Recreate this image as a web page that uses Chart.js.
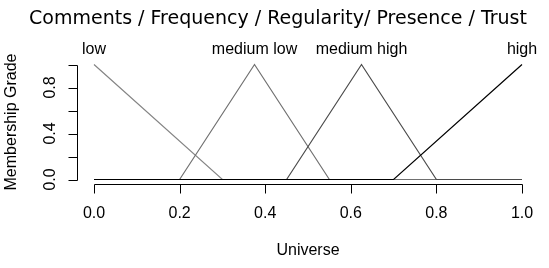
<!DOCTYPE html>
<html>
<head>
<meta charset="utf-8">
<script src="https://cdn.jsdelivr.net/npm/chart.js@4"></script>
<style>
  html, body { margin: 0; padding: 0; background: #fff; }
  #wrap { width: 549px; height: 268px; }
</style>
</head>
<body>
<div id="wrap"><canvas id="mf-chart" width="549" height="268"></canvas></div>
<script>
// membership functions
const lowX = [0, 0.3, 1];
const lowY = [1, 0, 0];
const medLowX = [0, 0.2, 0.375, 0.55, 1];
const medLowY = [0, 0, 1, 0, 0];
const medHighX = [0, 0.45, 0.625, 0.8, 1];
const medHighY = [0, 0, 1, 0, 0];
const highX = [0, 0.7, 1];
const highY = [0, 0, 1];

const setNames = ['low', 'medium low', 'medium high', 'high'];
const setPeaks = [0, 0.375, 0.625, 1];

const xTicks = [0, 0.2, 0.4, 0.6, 0.8, 1];
const xTickLabels = ['0.0', '0.2', '0.4', '0.6', '0.8', '1.0'];
const yTicks = [0, 0.2, 0.4, 0.6, 0.8, 1];
const yTickLabels = ['0.0', '', '0.4', '', '0.8', ''];

const titleText = 'Comments / Frequency / Regularity/ Presence / Trust';
const FONT = '16px "Liberation Sans", Arial, sans-serif';

function _pts(xs, ys) {
    return xs.map((x, i) => ({x: x, y: ys[i]}));
}

// R style axes drawn off the plot region, from the chart's own scales
const rAxes = {
    id: 'rAxes',
    afterDraw(chart) {
        const ctx = chart.ctx;
        const xs = chart.scales.x, ys = chart.scales.y;
        const axisY = Math.round(ys.getPixelForValue(-0.04)) + 0.5;
        const axisX = Math.round(xs.getPixelForValue(-0.04)) + 0.5;
        ctx.save();
        ctx.strokeStyle = '#000';
        ctx.fillStyle = '#000';
        ctx.lineWidth = 1;
        ctx.font = FONT;

        // x axis
        ctx.beginPath();
        ctx.moveTo(Math.round(xs.getPixelForValue(xTicks[0])) + 0.5, axisY);
        ctx.lineTo(Math.round(xs.getPixelForValue(xTicks[xTicks.length-1])) + 0.5, axisY);
        xTicks.forEach(v => {
            const px = Math.round(xs.getPixelForValue(v)) + 0.5;
            ctx.moveTo(px, axisY);
            ctx.lineTo(px, axisY + 9);
        });
        ctx.stroke();
        ctx.textAlign = 'center';
        ctx.textBaseline = 'middle';
        xTicks.forEach((v, i) => {
            ctx.fillText(xTickLabels[i], xs.getPixelForValue(v), 214);
        });
        ctx.fillText('Universe', xs.getPixelForValue(0.5), 251);

        // y axis
        ctx.beginPath();
        ctx.moveTo(axisX, Math.round(ys.getPixelForValue(yTicks[0])) + 0.5);
        ctx.lineTo(axisX, Math.round(ys.getPixelForValue(yTicks[yTicks.length-1])) + 0.5);
        yTicks.forEach(v => {
            const py = Math.round(ys.getPixelForValue(v)) + 0.5;
            ctx.moveTo(axisX, py);
            ctx.lineTo(axisX - 9, py);
        });
        ctx.stroke();
        yTicks.forEach((v, i) => {
            if (!yTickLabels[i]) return;
            ctx.save();
            ctx.translate(51, ys.getPixelForValue(v));
            ctx.rotate(-Math.PI / 2);
            ctx.fillText(yTickLabels[i], 0, 0);
            ctx.restore();
        });
        ctx.save();
        ctx.translate(12, ys.getPixelForValue(0.5));
        ctx.rotate(-Math.PI / 2);
        ctx.fillText('Membership Grade', 0, 0);
        ctx.restore();

        // set names above the peaks
        setNames.forEach((name, i) => {
            ctx.fillText(name, xs.getPixelForValue(setPeaks[i]), 50);
        });

        // title
        ctx.font = '19px "DejaVu Sans", sans-serif';
        ctx.fillText(titleText, 278, 19);
        ctx.restore();
    }
};

// order: lower number is drawn on top, so "high" (black) ends up last like in R
new Chart(document.getElementById('mf-chart'), {
    type: 'line',
    data: {
        datasets: [
            {label: 'low', data: _pts(lowX, lowY), borderColor: '#858585', order: 3},
            {label: 'medium low', data: _pts(medLowX, medLowY), borderColor: '#707070', order: 2},
            {label: 'medium high', data: _pts(medHighX, medHighY), borderColor: '#4a4a4a', order: 1},
            {label: 'high', data: _pts(highX, highY), borderColor: '#000000', order: 0},
        ].map(d => Object.assign(d, {borderWidth: 1.2, pointRadius: 0, tension: 0, fill: false, clip: false}))
    },
    options: {
        responsive: false,
        animation: false,
        devicePixelRatio: 1,
        layout: {padding: {left: 94, right: 27, top: 64.5, bottom: 88.5}},
        scales: {
            x: {type: 'linear', min: 0, max: 1, display: false},
            y: {type: 'linear', min: 0, max: 1, display: false}
        },
        plugins: {
            legend: {display: false},
            tooltip: {enabled: false},
            title: {display: false}
        }
    },
    plugins: [rAxes]
});
</script>
</body>
</html>
